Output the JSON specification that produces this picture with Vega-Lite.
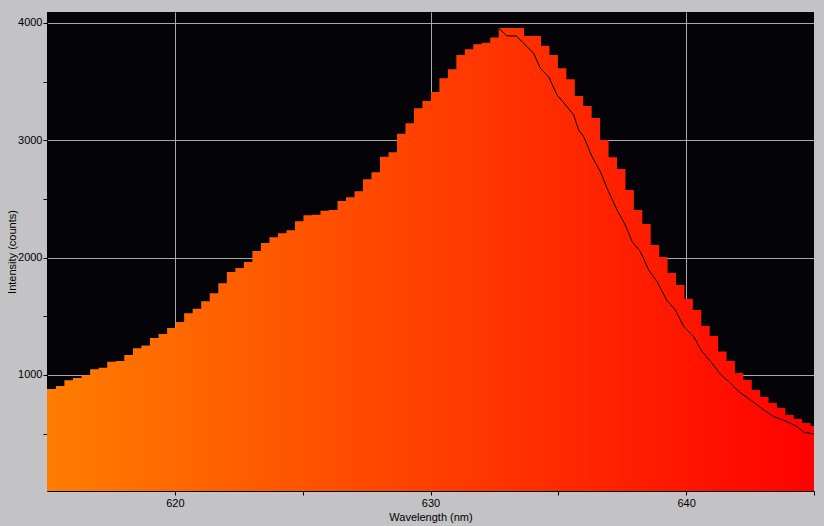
{
  "$schema": "https://vega.github.io/schema/vega-lite/v6.json",
  "width": 767,
  "height": 479,
  "autosize": {"type": "none"},
  "padding": {"left": 47, "top": 12, "right": 10, "bottom": 35},
  "background": "#c3c3c6",
  "config": {
    "view": {"fill": "#040307", "stroke": null},
    "font": "Liberation Sans"
  },
  "datasets": {
    "spectrum": [
      {"wavelength": 615.000, "intensity": 881},
      {"wavelength": 615.347, "intensity": 906},
      {"wavelength": 615.682, "intensity": 955},
      {"wavelength": 616.017, "intensity": 974},
      {"wavelength": 616.352, "intensity": 997},
      {"wavelength": 616.687, "intensity": 1049},
      {"wavelength": 617.022, "intensity": 1062},
      {"wavelength": 617.356, "intensity": 1113},
      {"wavelength": 617.691, "intensity": 1119},
      {"wavelength": 618.025, "intensity": 1170},
      {"wavelength": 618.360, "intensity": 1227},
      {"wavelength": 618.694, "intensity": 1250},
      {"wavelength": 619.028, "intensity": 1315},
      {"wavelength": 619.362, "intensity": 1349},
      {"wavelength": 619.697, "intensity": 1400},
      {"wavelength": 620.031, "intensity": 1452},
      {"wavelength": 620.365, "intensity": 1526},
      {"wavelength": 620.698, "intensity": 1565},
      {"wavelength": 621.032, "intensity": 1628},
      {"wavelength": 621.366, "intensity": 1696},
      {"wavelength": 621.700, "intensity": 1781},
      {"wavelength": 622.033, "intensity": 1878},
      {"wavelength": 622.367, "intensity": 1912},
      {"wavelength": 622.700, "intensity": 1963},
      {"wavelength": 623.033, "intensity": 2057},
      {"wavelength": 623.367, "intensity": 2125},
      {"wavelength": 623.700, "intensity": 2173},
      {"wavelength": 624.033, "intensity": 2208},
      {"wavelength": 624.366, "intensity": 2233},
      {"wavelength": 624.699, "intensity": 2310},
      {"wavelength": 625.032, "intensity": 2361},
      {"wavelength": 625.365, "intensity": 2366},
      {"wavelength": 625.697, "intensity": 2400},
      {"wavelength": 626.030, "intensity": 2406},
      {"wavelength": 626.363, "intensity": 2482},
      {"wavelength": 626.695, "intensity": 2514},
      {"wavelength": 627.028, "intensity": 2565},
      {"wavelength": 627.360, "intensity": 2668},
      {"wavelength": 627.692, "intensity": 2727},
      {"wavelength": 628.024, "intensity": 2860},
      {"wavelength": 628.357, "intensity": 2897},
      {"wavelength": 628.689, "intensity": 3056},
      {"wavelength": 629.021, "intensity": 3145},
      {"wavelength": 629.352, "intensity": 3272},
      {"wavelength": 629.684, "intensity": 3335},
      {"wavelength": 630.016, "intensity": 3412},
      {"wavelength": 630.348, "intensity": 3528},
      {"wavelength": 630.679, "intensity": 3605},
      {"wavelength": 631.011, "intensity": 3727},
      {"wavelength": 631.342, "intensity": 3776},
      {"wavelength": 631.673, "intensity": 3818},
      {"wavelength": 632.005, "intensity": 3832},
      {"wavelength": 632.336, "intensity": 3876},
      {"wavelength": 632.667, "intensity": 3957},
      {"wavelength": 632.998, "intensity": 3957},
      {"wavelength": 633.329, "intensity": 3957},
      {"wavelength": 633.660, "intensity": 3889},
      {"wavelength": 633.991, "intensity": 3889},
      {"wavelength": 634.321, "intensity": 3806},
      {"wavelength": 634.652, "intensity": 3727},
      {"wavelength": 634.983, "intensity": 3613},
      {"wavelength": 635.313, "intensity": 3519},
      {"wavelength": 635.644, "intensity": 3378},
      {"wavelength": 635.974, "intensity": 3292},
      {"wavelength": 636.304, "intensity": 3190},
      {"wavelength": 636.634, "intensity": 3003},
      {"wavelength": 636.965, "intensity": 2855},
      {"wavelength": 637.295, "intensity": 2756},
      {"wavelength": 637.625, "intensity": 2577},
      {"wavelength": 637.954, "intensity": 2406},
      {"wavelength": 638.284, "intensity": 2287},
      {"wavelength": 638.614, "intensity": 2108},
      {"wavelength": 638.944, "intensity": 2006},
      {"wavelength": 639.273, "intensity": 1869},
      {"wavelength": 639.603, "intensity": 1767},
      {"wavelength": 639.932, "intensity": 1648},
      {"wavelength": 640.261, "intensity": 1554},
      {"wavelength": 640.591, "intensity": 1418},
      {"wavelength": 640.920, "intensity": 1332},
      {"wavelength": 641.249, "intensity": 1199},
      {"wavelength": 641.578, "intensity": 1119},
      {"wavelength": 641.907, "intensity": 1017},
      {"wavelength": 642.236, "intensity": 957},
      {"wavelength": 642.565, "intensity": 872},
      {"wavelength": 642.893, "intensity": 813},
      {"wavelength": 643.222, "intensity": 761},
      {"wavelength": 643.551, "intensity": 719},
      {"wavelength": 643.879, "intensity": 659},
      {"wavelength": 644.208, "intensity": 625},
      {"wavelength": 644.536, "intensity": 591},
      {"wavelength": 644.864, "intensity": 565},
      {"wavelength": 645.192, "intensity": 565}
    ],
    "fit": [
      {"wavelength": 632.663, "intensity": 3955},
      {"wavelength": 632.992, "intensity": 3889},
      {"wavelength": 633.356, "intensity": 3889},
      {"wavelength": 633.642, "intensity": 3827},
      {"wavelength": 634.033, "intensity": 3741},
      {"wavelength": 634.295, "intensity": 3614},
      {"wavelength": 634.620, "intensity": 3542},
      {"wavelength": 634.949, "intensity": 3386},
      {"wavelength": 635.340, "intensity": 3286},
      {"wavelength": 635.599, "intensity": 3216},
      {"wavelength": 635.795, "intensity": 3088},
      {"wavelength": 635.990, "intensity": 3031},
      {"wavelength": 636.319, "intensity": 2860},
      {"wavelength": 636.644, "intensity": 2733},
      {"wavelength": 636.906, "intensity": 2591},
      {"wavelength": 637.297, "intensity": 2406},
      {"wavelength": 637.622, "intensity": 2278},
      {"wavelength": 637.885, "intensity": 2136},
      {"wavelength": 638.209, "intensity": 2051},
      {"wavelength": 638.534, "intensity": 1895},
      {"wavelength": 638.863, "intensity": 1795},
      {"wavelength": 639.254, "intensity": 1631},
      {"wavelength": 639.579, "intensity": 1554},
      {"wavelength": 639.904, "intensity": 1412},
      {"wavelength": 640.295, "intensity": 1326},
      {"wavelength": 640.624, "intensity": 1199},
      {"wavelength": 641.016, "intensity": 1100},
      {"wavelength": 641.341, "intensity": 1006},
      {"wavelength": 641.732, "intensity": 929},
      {"wavelength": 642.057, "intensity": 858},
      {"wavelength": 642.515, "intensity": 787},
      {"wavelength": 643.035, "intensity": 702},
      {"wavelength": 643.427, "intensity": 645},
      {"wavelength": 643.951, "intensity": 602},
      {"wavelength": 644.342, "intensity": 559},
      {"wavelength": 644.601, "intensity": 512},
      {"wavelength": 644.992, "intensity": 497}
    ]
  },
  "layer": [
    {
      "data": {"name": "spectrum"},
      "mark": {
        "type": "area",
        "interpolate": "step-after",
        "clip": true,
        "color": {
          "gradient": "linear",
          "x1": 0, "y1": 0, "x2": 1, "y2": 0,
          "stops": [
            {"offset": 0, "color": "#ff7d00"},
            {"offset": 1, "color": "#ff0000"}
          ]
        }
      },
      "encoding": {
        "x": {
          "field": "wavelength",
          "type": "quantitative",
          "scale": {"domain": [615, 645], "nice": false, "zero": false},
          "axis": {
            "values": [620, 625, 630, 635, 640, 645],
            "format": "d",
            "labelExpr": "datum.value % 10 === 0 ? datum.label : ''",
            "title": "Wavelength (nm)",
            "grid": true,
            "gridColor": {"condition": {"test": "datum.value % 10 === 0 && datum.value < 645", "value": "#a9a9a9"}, "value": "transparent"},
            "gridWidth": 1,
            "domainColor": "black",
            "tickColor": "black",
            "tickSize": 4,
            "labelColor": "black",
            "labelFontSize": 11,
            "labelPadding": 2,
            "labelFlush": false,
            "titleFontSize": 11,
            "titleFontWeight": "normal",
            "titleColor": "black",
            "titlePadding": 3
          }
        },
        "y": {
          "field": "intensity",
          "type": "quantitative",
          "scale": {"domain": [11, 4093], "nice": false, "zero": false},
          "axis": {
            "values": [500, 1000, 1500, 2000, 2500, 3000, 3500, 4000],
            "format": "d",
            "labelExpr": "datum.value % 1000 === 0 ? datum.label : ''",
            "title": "Intensity (counts)",
            "grid": true,
            "gridColor": {"condition": {"test": "datum.value % 1000 === 0", "value": "#a9a9a9"}, "value": "transparent"},
            "gridWidth": 1,
            "domainColor": "black",
            "tickColor": "black",
            "tickSize": 4,
            "labelColor": "black",
            "labelFontSize": 11,
            "labelPadding": 1,
            "labelFlush": false,
            "titleFontSize": 11,
            "titleFontWeight": "normal",
            "titleColor": "black",
            "titlePadding": 0
          }
        }
      }
    },
    {
      "data": {"name": "fit"},
      "mark": {"type": "line", "color": "black", "strokeWidth": 1, "clip": true},
      "encoding": {
        "x": {"field": "wavelength", "type": "quantitative"},
        "y": {"field": "intensity", "type": "quantitative"}
      }
    }
  ]
}
